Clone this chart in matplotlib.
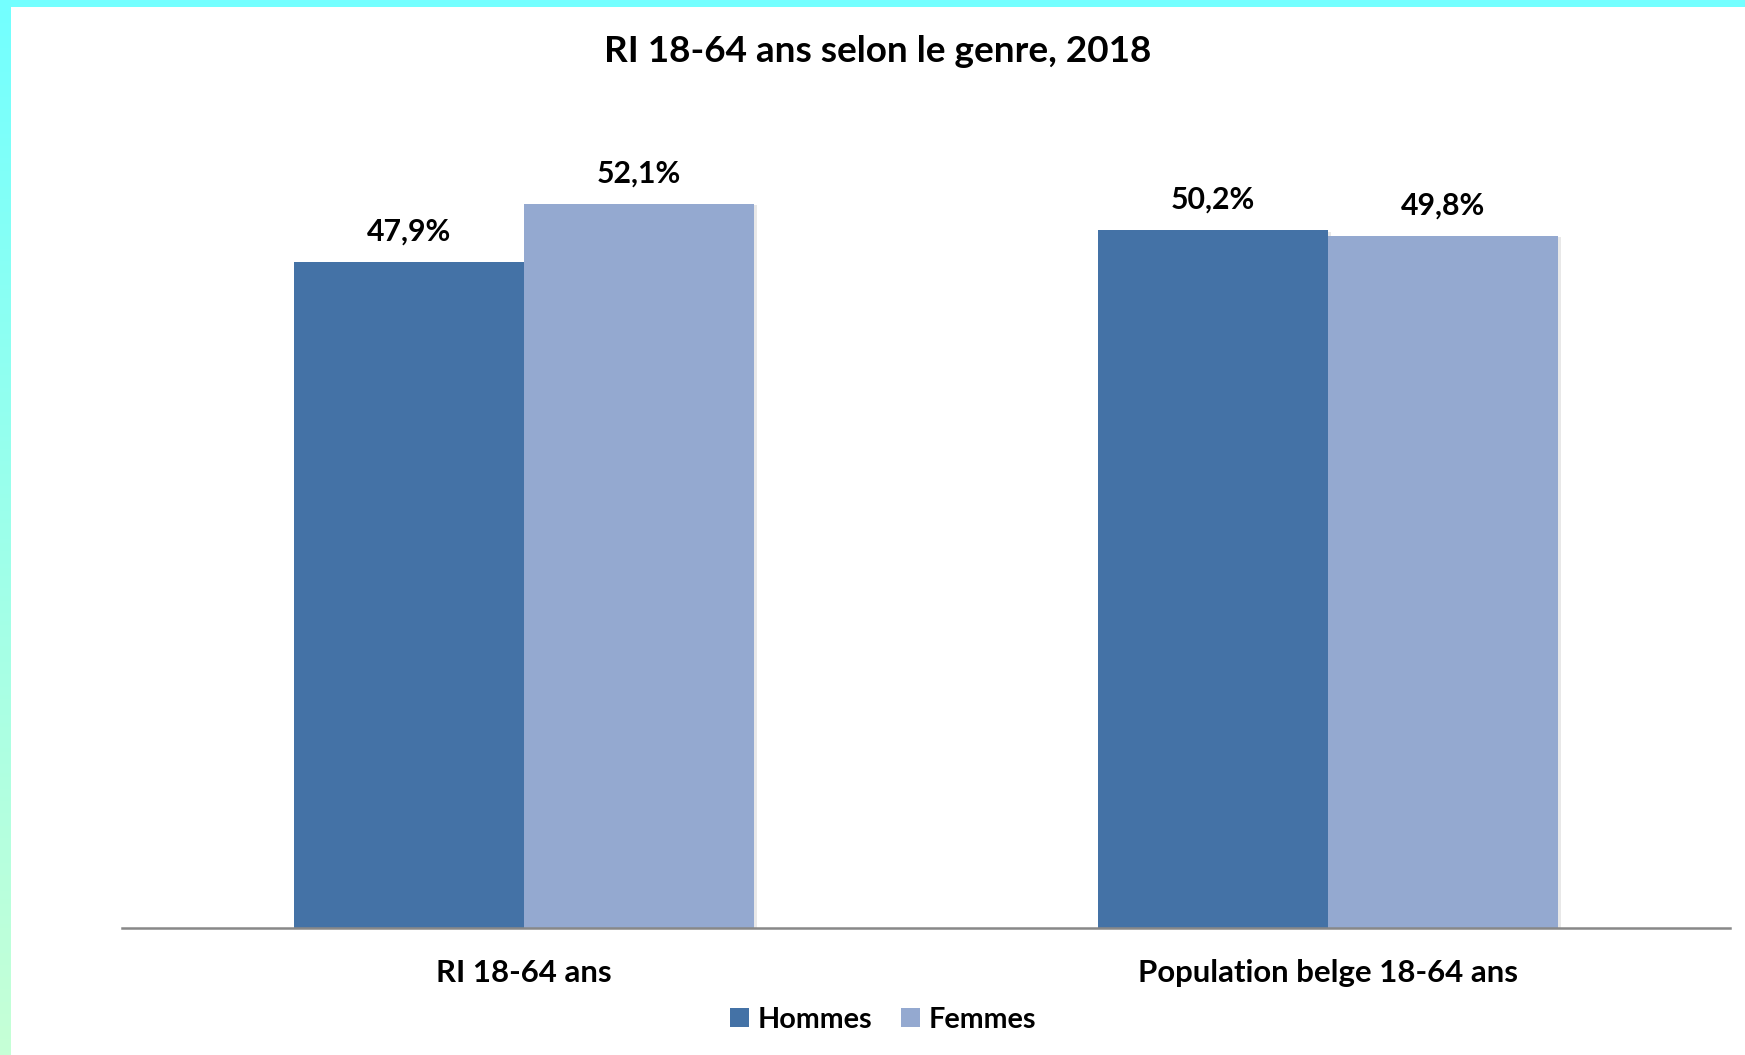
import matplotlib
matplotlib.use("Agg")
import matplotlib.pyplot as plt
import matplotlib.patheffects as pe
import numpy as np
from matplotlib.patches import Patch

categories = ["RI 18-64 ans", "Population belge 18-64 ans"]
series_names = ["Hommes", "Femmes"]
hommes = [47.9, 50.2]
femmes = [52.1, 49.8]
labels_h = ["47,9%", "50,2%"]
labels_f = ["52,1%", "49,8%"]
title = "RI 18-64 ans selon le genre, 2018"

col_h = "#4472A6"
col_f = "#94A9D0"

plt.rcParams['font.family'] = ['Lato', 'DejaVu Sans']

W, H = 1745, 1055
fig = plt.figure(figsize=(W/100, H/100), dpi=100)
fig.patch.set_facecolor("white")

# plot area in pixels
x0, x1 = 122, 1730
ybot, ytop = 928, 94
ax = fig.add_axes([x0/W, 1-ybot/H, (x1-x0)/W, (ybot-ytop)/H])
ax.set_xlim(-0.5, 1.5)
ax.set_ylim(0, 60)

x = np.arange(len(categories))
w = 0.286
shadow = [pe.SimplePatchShadow(offset=(2, -1), alpha=0.09, shadow_rgbFace="black"), pe.Normal()]
b1 = ax.bar(x - w/2, hommes, w, color=col_h, label=series_names[0], zorder=2)
b2 = ax.bar(x + w/2, femmes, w, color=col_f, label=series_names[1], zorder=2)
for b in list(b1) + list(b2):
    b.set_path_effects(shadow)

for rect, lab in zip(list(b1) + list(b2), labels_h + labels_f):
    ax.annotate(lab, (rect.get_x() + rect.get_width()/2, rect.get_height()),
                xytext=(0, 22), textcoords="offset points", ha="center", va="center",
                fontsize=21.8, fontweight="bold", color="black")

for s in ["top", "right", "left"]:
    ax.spines[s].set_visible(False)
ax.spines["bottom"].set_color("#888888")
ax.spines["bottom"].set_linewidth(1.8)
ax.spines["bottom"].set_zorder(3)
ax.set_yticks([])
ax.set_xticks(x)
ax.set_xticklabels(categories, fontsize=22.4, fontweight="bold")
ax.tick_params(axis="x", length=0, pad=22)

fig.text(878/W, 1-52/H, title, ha="center", va="center", fontsize=26.6, fontweight="bold")

handles = [Patch(facecolor=col_h), Patch(facecolor=col_f)]
fig.legend(handles, series_names, loc="center", bbox_to_anchor=(883/W, 1-1020/H),
           ncol=2, frameon=False, prop={"weight": "bold", "size": 20.7},
           handlelength=0.65, handleheight=0.65, handletextpad=0.3, columnspacing=1.0)

# decorative borders
top = fig.add_axes([0, 1-7/H, 1, 7/H])
top.set_axis_off()
top.imshow([[[0x73/255, 1, 1]]], aspect="auto", extent=(0, 1, 0, 1))
left = fig.add_axes([0, 0, 11/W, 1-7/H])
left.set_axis_off()
c_top = np.array([0x73, 0xFF, 0xFF]) / 255
c_bot = np.array([0xC6, 0xFF, 0xD6]) / 255
t = np.linspace(0, 1, 256)[:, None]
grad = (c_top[None, :] * (1 - t) + c_bot[None, :] * t)[:, None, :]
left.imshow(grad, aspect="auto", extent=(0, 1, 0, 1))

fig.savefig("out.png", dpi=100)
